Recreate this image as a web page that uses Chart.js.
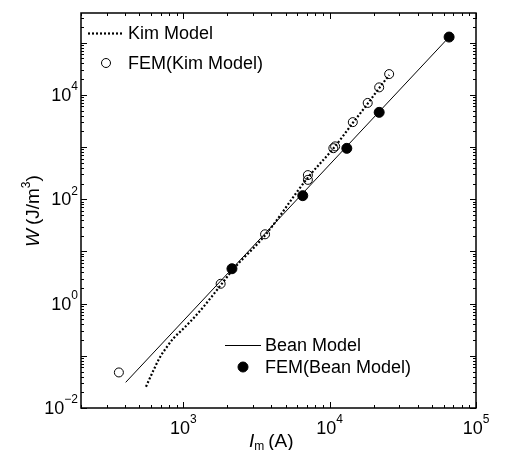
<!DOCTYPE html>
<html>
<head>
<meta charset="utf-8">
<script src="https://cdn.jsdelivr.net/npm/chart.js@4.4.0/dist/chart.umd.min.js"></script>
<style>
  body { margin: 0; background: #fff; }
  #wrap { width: 506px; height: 450px; }
</style>
</head>
<body>
<div id="wrap"><canvas id="chart"></canvas></div>
<script>
// Kim model curve (dotted)
const kimModelI = [556, 624, 693, 771, 855, 1000, 1170, 1370, 1560, 1800, 2200, 3600, 7100, 10800, 14400, 18200, 21800, 25500];
const kimModelW = [0.0256, 0.052, 0.094, 0.147, 0.215, 0.33, 0.52, 0.86, 1.35, 2.25, 4.6, 20, 260, 1000, 2900, 6800, 13500, 24000];

// FEM results with Kim model (open circles)
const femKimI = [363, 1800, 3620, 7100, 7100, 10600, 10900, 14400, 18200, 21800, 25500];
const femKimW = [0.048, 2.4, 21.3, 290, 235, 950, 1030, 3000, 7000, 13900, 25000];

// Bean model (solid line)
const beanModelI = [404, 65500];
const beanModelW = [0.031, 128000];

// FEM results with Bean model (filled circles)
const femBeanI = [2150, 6550, 13100, 21800, 65500];
const femBeanW = [4.66, 117, 944, 4620, 128000];

// axis ranges and labelled ticks
const xRange = [200, 1e5];
const yRange = [1e-2, 3.7e5];
const xTickLabels = [1e3, 1e4, 1e5];
const yTickLabels = [1e-2, 1e0, 1e2, 1e4];

const toPoints = (xs, ys) => xs.map((x, i) => ({ x: x, y: ys[i] }));

const FONT = '"Liberation Sans", Arial, sans-serif';

function drawPow(ctx, exp, x, y, align) {
    // draws "10" with superscript exponent; y is vertical centre of "10"
    ctx.textBaseline = 'middle';
    ctx.font = '18px ' + FONT;
    const base = '10';
    const wBase = ctx.measureText(base).width;
    ctx.font = '12px ' + FONT;
    const sup = String(exp).replace('-', '\u2212');
    const wSup = ctx.measureText(sup).width;
    let left;
    if (align === 'right') left = x - wBase - wSup;
    else left = x - (wBase + wSup) / 2;
    ctx.font = '18px ' + FONT;
    ctx.textAlign = 'left';
    ctx.fillText(base, left, y);
    ctx.font = '12px ' + FONT;
    ctx.fillText(sup, left + wBase, y - 9);
}

const decorPlugin = {
    id: 'decor',
    afterDraw(chart) {
        const ctx = chart.ctx;
        const area = chart.chartArea;
        const xs = chart.scales.x;
        const ys = chart.scales.y;
        ctx.save();
        ctx.strokeStyle = '#000';
        ctx.fillStyle = '#000';

        // frame
        ctx.lineWidth = 1.5;
        ctx.strokeRect(area.left, area.top, area.right - area.left, area.bottom - area.top);

        // inward ticks on all four sides
        ctx.lineWidth = 1;
        ctx.beginPath();
        for (let d = Math.floor(Math.log10(xRange[0])); d <= Math.ceil(Math.log10(xRange[1])); d++) {
            for (let m = 1; m <= 9; m++) {
                const v = m * Math.pow(10, d);
                if (v < xRange[0] || v > xRange[1]) continue;
                const px = Math.round(xs.getPixelForValue(v)) + 0.5;
                const len = m === 1 ? 6 : 3;
                ctx.moveTo(px, area.bottom); ctx.lineTo(px, area.bottom - len);
                ctx.moveTo(px, area.top); ctx.lineTo(px, area.top + len);
            }
        }
        for (let d = Math.floor(Math.log10(yRange[0])); d <= Math.ceil(Math.log10(yRange[1])); d++) {
            for (let m = 1; m <= 9; m++) {
                const v = m * Math.pow(10, d);
                if (v < yRange[0] || v > yRange[1]) continue;
                const py = Math.round(ys.getPixelForValue(v)) + 0.5;
                const len = m === 1 ? 6 : 3;
                ctx.moveTo(area.left, py); ctx.lineTo(area.left + len, py);
                ctx.moveTo(area.right, py); ctx.lineTo(area.right - len, py);
            }
        }
        ctx.stroke();

        // tick labels
        xTickLabels.forEach(v => {
            drawPow(ctx, Math.round(Math.log10(v)), xs.getPixelForValue(v), area.bottom + 21, 'center');
        });
        yTickLabels.forEach(v => {
            drawPow(ctx, Math.round(Math.log10(v)), area.left - 3, ys.getPixelForValue(v) + 1, 'right');
        });

        // x title: I_m (A)
        ctx.textBaseline = 'alphabetic';
        ctx.textAlign = 'left';
        ctx.font = 'italic 19px ' + FONT;
        let tx = 249;
        const ty = 447;
        ctx.fillText('I', tx, ty);
        tx += ctx.measureText('I').width;
        ctx.font = '12px ' + FONT;
        ctx.fillText('m', tx, ty + 3);
        tx += ctx.measureText('m').width + 4;
        ctx.font = '19px ' + FONT;
        ctx.fillText('(A)', tx, ty);

        // y title: W (J/m^3)
        ctx.save();
        ctx.translate(39, 247);
        ctx.rotate(-Math.PI / 2);
        let ux = 0;
        ctx.font = 'italic 19px ' + FONT;
        ctx.fillText('W', ux, 0);
        ux += ctx.measureText('W').width + 4;
        ctx.font = '19px ' + FONT;
        ctx.fillText('(J/m', ux, 0);
        ux += ctx.measureText('(J/m').width;
        ctx.font = '12px ' + FONT;
        ctx.fillText('3', ux, -9);
        ux += ctx.measureText('3').width;
        ctx.font = '19px ' + FONT;
        ctx.fillText(')', ux, 0);
        ctx.restore();

        // legends
        const items = [
            { ds: 0, x: 88, y: 33 },
            { ds: 1, x: 88, y: 63 },
            { ds: 2, x: 225, y: 345 },
            { ds: 3, x: 225, y: 367 }
        ];
        items.forEach(it => {
            const ds = chart.data.datasets[it.ds];
            ctx.save();
            if (ds.showLine) {
                ctx.strokeStyle = '#000';
                ctx.lineWidth = ds.borderWidth;
                ctx.setLineDash(ds.borderDash || []);
                ctx.beginPath();
                ctx.moveTo(it.x, it.y + 0.5);
                ctx.lineTo(it.x + 36, it.y + 0.5);
                ctx.stroke();
            } else {
                ctx.beginPath();
                ctx.arc(it.x + 18, it.y, ds.pointRadius, 0, Math.PI * 2);
                ctx.fillStyle = ds.pointBackgroundColor;
                ctx.fill();
                ctx.lineWidth = 1;
                ctx.strokeStyle = '#000';
                ctx.stroke();
            }
            ctx.restore();
            ctx.font = '18px ' + FONT;
            ctx.textAlign = 'left';
            ctx.textBaseline = 'middle';
            ctx.fillStyle = '#000';
            ctx.fillText(ds.label, it.x + 40, it.y + 1);
        });

        ctx.restore();
    }
};

new Chart(document.getElementById('chart'), {
    type: 'scatter',
    data: {
        datasets: [{
            label: 'Kim Model',
            data: toPoints(kimModelI, kimModelW),
            showLine: true,
            borderColor: '#000',
            borderWidth: 2.2,
            borderDash: [2, 2],
            pointRadius: 0,
            cubicInterpolationMode: 'monotone'
        },
        {
            label: 'FEM(Kim Model)',
            data: toPoints(femKimI, femKimW),
            showLine: false,
            pointRadius: 4.5,
            pointBorderWidth: 1,
            pointBorderColor: '#000',
            pointBackgroundColor: 'rgba(255,255,255,0)'
        },
        {
            label: 'Bean Model',
            data: toPoints(beanModelI, beanModelW),
            showLine: true,
            borderColor: '#000',
            borderWidth: 1,
            pointRadius: 0
        },
        {
            label: 'FEM(Bean Model)',
            data: toPoints(femBeanI, femBeanW),
            showLine: false,
            pointRadius: 5,
            pointBorderWidth: 1,
            pointBorderColor: '#000',
            pointBackgroundColor: '#000'
        }]
    },
    options: {
        responsive: true,
        maintainAspectRatio: false,
        animation: false,
        layout: { padding: { top: 13, right: 30, left: 0, bottom: 0 } },
        plugins: {
            legend: { display: false },
            tooltip: { enabled: false }
        },
        scales: {
            x: {
                type: 'logarithmic',
                min: xRange[0],
                max: xRange[1],
                grid: { display: false },
                border: { display: false },
                ticks: { display: false },
                afterFit: s => { s.height = 42; }
            },
            y: {
                type: 'logarithmic',
                min: yRange[0],
                max: yRange[1],
                grid: { display: false },
                border: { display: false },
                ticks: { display: false },
                afterFit: s => { s.width = 81; }
            }
        }
    },
    plugins: [decorPlugin]
});
</script>
</body>
</html>
